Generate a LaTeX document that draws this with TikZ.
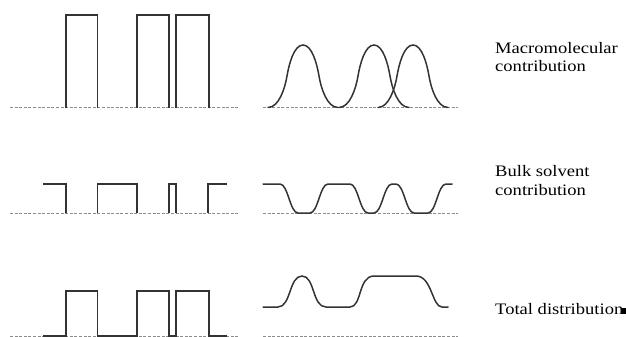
\documentclass[tikz,border=0pt]{standalone}
\usepackage{fontspec}
\setmainfont{Liberation Serif}
\begin{document}
\begin{tikzpicture}[x=1pt,y=-1pt,
  base/.style={draw=black!45,line width=0.9pt,dash pattern=on 3pt off 1.6pt},
  boxline/.style={draw=black!80,line width=1.1pt,line join=miter},
  curve/.style={draw=black!80,line width=1.5pt,line cap=round},
  lbl/.style={anchor=base west,inner sep=0pt,align=left,font=\fontsize{16}{18.3}\selectfont}]
\useasboundingbox (0,0) rectangle (626,337);
% baselines
\draw[base] (10,107.5) -- (238,107.5);
\draw[base] (263,107.5) -- (458,107.5);
\draw[base] (10,213) -- (238,213);
\draw[base] (263,213) -- (458,213);
\draw[base] (10,336) -- (238,336);
\draw[base] (263,336) -- (458,336);
% macromolecular boxes
\draw[boxline] (66,107.5) -- (66,15) -- (97.7,15) -- (97.7,107.5);
\draw[boxline] (137,107.5) -- (137,15) -- (169,15) -- (169,107.5);
\draw[boxline] (176,107.5) -- (176,15) -- (209,15) -- (209,107.5);
% macromolecular smooth
\foreach \c in {303,374,413}{
  \draw[curve] (\c-35,107.5) .. controls (\c-24,107.5) and (\c-18,88) .. (\c-16,76)
     .. controls (\c-14,64) and (\c-9,45) .. (\c,45)
     .. controls (\c+9,45) and (\c+14,64) .. (\c+16,76)
     .. controls (\c+18,88) and (\c+24,107.5) .. (\c+35,107.5);
}
% bulk solvent steps
\draw[boxline] (43,184) -- (66,184) -- (66,213);
\draw[boxline] (97.7,213) -- (97.7,184) -- (137,184) -- (137,213);
\draw[boxline] (169,213) -- (169,184) -- (176,184) -- (176,213);
\draw[boxline] (208,213) -- (208,184) -- (227,184);
% bulk solvent smooth
\draw[curve] (263,184) -- (280,184) .. controls (288,184) and (290,213) .. (298,213)
  -- (310,213) .. controls (318,213) and (320,184) .. (328,184)
  -- (350,184) .. controls (358,184) and (360,213) .. (368,213)
  -- (374,213) .. controls (382,213) and (384,184) .. (392,184)
  -- (396,184) .. controls (404,184) and (406,213) .. (414,213)
  -- (428,213) .. controls (436,213) and (438,184) .. (446,184) -- (452,184);
% total steps
\draw[boxline] (43,336) -- (66,336) -- (66,291) -- (97.7,291) -- (97.7,336)
  -- (137,336) -- (137,291) -- (169,291) -- (169,336) -- (176,336) -- (176,291)
  -- (209,291) -- (209,336) -- (227,336);
% total smooth
\draw[curve] (263,307) -- (278,307) .. controls (291,307) and (289,276) .. (302,276)
  .. controls (315,276) and (312,307) .. (326,307) -- (350,307)
  .. controls (362,307) and (358,276) .. (374,276) -- (416,276)
  .. controls (432,276) and (432,307) .. (442,307) -- (448,307);
% labels
\node[lbl] (m) at (495,71.7) {\scalebox{1.16}[1]{Macromolecular}\\\scalebox{1.16}[1]{contribution}};
\node[lbl] (b) at (495,195) {\scalebox{1.16}[1]{Bulk solvent}\\\scalebox{1.16}[1]{contribution}};
\node[lbl] (t) at (495,314) {\scalebox{1.16}[1]{Total distribution}};
\fill[black] (622,307.7) rectangle (626,314);
\end{tikzpicture}
\end{document}
